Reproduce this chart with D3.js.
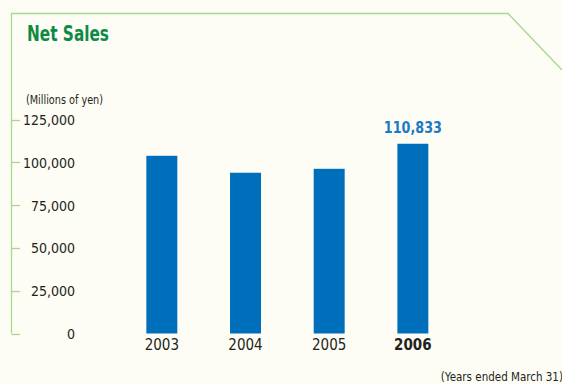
<!DOCTYPE html>
<html>
<head>
<meta charset="utf-8">
<script src="https://cdn.jsdelivr.net/npm/d3@7"></script>
<style>
  html, body { margin: 0; padding: 0; background: #fdfdf5; }
  svg { display: block; }
  text { font-family: "DejaVu Sans Condensed", "DejaVu Sans", sans-serif; font-stretch: condensed; }
</style>
</head>
<body>
<svg id="chart" width="562" height="384"></svg>
<script>
// Net sales by fiscal year (millions of yen)
const years = ["2003", "2004", "2005", "2006"];
const netSales = [103800, 93900, 96200, 110833];
const tickValues = [0, 25000, 50000, 75000, 100000, 125000];
const highlightYear = "2006";

const svg = d3.select("#chart");

const frameColor = "#a9d98c";
const barColor = "#006fbb";
const labelColor = "#1a7ac4";
const titleColor = "#0f8a45";
const textColor = "#231f20";

// Panel frame: left rule, top rule and the clipped corner
svg.append("path")
  .attr("d", d3.line()([[11.5, 333.5], [11.5, 13.5], [508, 13.5], [562, 70]]))
  .attr("fill", "none")
  .attr("stroke", frameColor)
  .attr("stroke-width", 1.3);

svg.append("text")
  .attr("x", 27).attr("y", 41)
  .attr("fill", titleColor)
  .attr("font-size", 21.5)
  .attr("font-weight", "bold")
  .attr("textLength", 82)
  .attr("lengthAdjust", "spacingAndGlyphs")
  .text("Net Sales");

const y = d3.scaleLinear().domain([0, 125000]).range([333.5, 119.5]);
const x = d3.scaleBand().domain(years).range([120, 454.7]).paddingInner(0.63).paddingOuter(0.315);

// Axis ticks on the frame's left rule
const yAxis = d3.axisLeft(y).tickValues(tickValues).tickSize(0).tickFormat(d3.format(","));
const gy = svg.append("g").attr("transform", "translate(75,0)").call(yAxis);
gy.select(".domain").remove();
gy.selectAll("text")
  .attr("x", 0)
  .attr("dy", "0.36em")
  .attr("fill", textColor)
  .attr("font-size", 14)
  .style("font-family", null);

svg.append("g").selectAll("line")
  .data(tickValues)
  .join("line")
  .attr("x1", 11.5).attr("x2", 20)
  .attr("y1", d => Math.round(y(d)) + 0.5)
  .attr("y2", d => Math.round(y(d)) + 0.5)
  .attr("stroke", frameColor)
  .attr("stroke-width", 1.3);

svg.append("text")
  .attr("x", 26).attr("y", 104)
  .attr("fill", textColor)
  .attr("font-size", 11.5)
  .attr("textLength", 77)
  .attr("lengthAdjust", "spacingAndGlyphs")
  .text("(Millions of yen)");

// Bars
svg.append("g").selectAll("rect")
  .data(years)
  .join("rect")
  .attr("x", d => x(d))
  .attr("width", x.bandwidth())
  .attr("y", (d, i) => y(netSales[i]))
  .attr("height", (d, i) => y(0) - y(netSales[i]))
  .attr("fill", barColor);

// Year labels
const xAxis = d3.axisBottom(x).tickSize(0);
const gx = svg.append("g").attr("transform", `translate(0,${y(0)})`).call(xAxis);
gx.select(".domain").remove();
gx.selectAll("text")
  .attr("y", 6)
  .attr("dy", "0.71em")
  .attr("fill", textColor)
  .attr("font-size", 15)
  .attr("font-weight", d => d === highlightYear ? "bold" : "normal")
  .style("font-family", null);

// Value label on the latest year
const hi = years.indexOf(highlightYear);
svg.append("text")
  .attr("x", x(highlightYear) + x.bandwidth() / 2)
  .attr("y", y(netSales[hi]) - 11)
  .attr("text-anchor", "middle")
  .attr("fill", labelColor)
  .attr("font-size", 16.5)
  .attr("font-weight", "bold")
  .attr("textLength", 58)
  .attr("lengthAdjust", "spacingAndGlyphs")
  .text(d3.format(",")(netSales[hi]));

svg.append("text")
  .attr("x", 563).attr("y", 381)
  .attr("text-anchor", "end")
  .attr("fill", textColor)
  .attr("font-size", 11.5)
  .text("(Years ended March 31)");
</script>
</body>
</html>
